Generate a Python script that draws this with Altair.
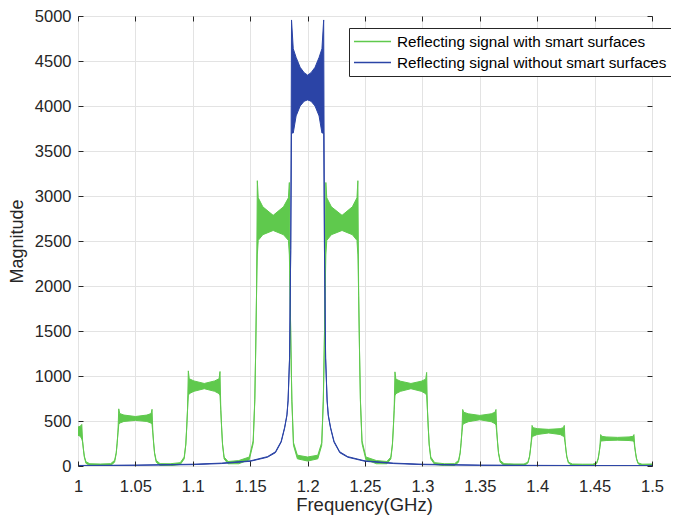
import altair as alt
import pandas as pd

series_names = ["Reflecting signal with smart surfaces",
                "Reflecting signal without smart surfaces"]
series_colors = ["#5FC94D", "#2B44A6"]

x_ticks = [1.0, 1.05, 1.1, 1.15, 1.2, 1.25, 1.3, 1.35, 1.4, 1.45, 1.5]
y_ticks = [0, 500, 1000, 1500, 2000, 2500, 3000, 3500, 4000, 4500, 5000]

# Green trace: frequency (GHz), lower and upper envelope of the magnitude band
green_freq = [
    1.0000, 1.0020, 1.0033, 1.0040, 1.0047, 1.0055, 1.0069, 1.0103, 1.0194,
    1.0285, 1.0319, 1.0333, 1.0341, 1.0348, 1.0355, 1.0363, 1.0400, 1.0500, 1.0600, 1.0637, 1.0645, 1.0652, 1.0659, 1.0667, 1.0681, 1.0715, 1.0803,
    1.0891, 1.0925, 1.0939, 1.0947, 1.0954, 1.0961, 1.0969, 1.1010, 1.1100, 1.1190, 1.1229, 1.1237, 1.1244, 1.1251, 1.1259, 1.1273, 1.1307, 1.1400,
    1.1492, 1.1526, 1.1540, 1.1548, 1.1555, 1.1562, 1.1570, 1.1610, 1.1700, 1.1790, 1.1833, 1.1841, 1.1848, 1.1855, 1.1863, 1.1877, 1.1911, 1.2000, 1.2089,
    1.2123, 1.2137, 1.2145, 1.2152, 1.2159, 1.2167, 1.2207, 1.2300, 1.2390, 1.2430, 1.2438, 1.2445, 1.2452, 1.2460, 1.2474, 1.2508, 1.2600,
    1.2691, 1.2725, 1.2739, 1.2747, 1.2754, 1.2761, 1.2769, 1.2810, 1.2900, 1.2990, 1.3029, 1.3037, 1.3044, 1.3051, 1.3059, 1.3073, 1.3107, 1.3194,
    1.3281, 1.3315, 1.3329, 1.3337, 1.3344, 1.3351, 1.3359, 1.3400, 1.3500, 1.3600, 1.3633, 1.3641, 1.3648, 1.3655, 1.3663, 1.3677, 1.3711, 1.3798,
    1.3885, 1.3919, 1.3933, 1.3941, 1.3948, 1.3955, 1.3963, 1.4000, 1.4100, 1.4200, 1.4228, 1.4236, 1.4243, 1.4250, 1.4258, 1.4272, 1.4306, 1.4395,
    1.4483, 1.4517, 1.4531, 1.4539, 1.4546, 1.4553, 1.4561, 1.4600, 1.4700, 1.4800, 1.4835, 1.4843, 1.4850, 1.4857, 1.4865, 1.4879, 1.4913, 1.5000,
]
green_low = [
    341, 330, 300, 268, 182, 100, 30, 5, 2,
    6, 43, 138, 250, 366, 460, 477, 495, 507, 495, 477, 460, 366, 250, 138, 43, 6, 3,
    17, 79, 235, 423, 618, 780, 804, 830, 859, 830, 804, 780, 618, 423, 235, 79, 25, 25,
    70, 250, 720, 1290, 1885, 2345, 2507, 2570, 2617, 2570, 2507, 2345, 1885, 1290, 720, 230, 80, 55, 80,
    230, 720, 1290, 1885, 2345, 2507, 2570, 2617, 2570, 2507, 2345, 1885, 1290, 720, 250, 70, 25,
    25, 79, 235, 423, 618, 780, 804, 830, 859, 830, 804, 780, 618, 423, 235, 79, 17, 3,
    6, 43, 140, 252, 370, 455, 470, 492, 514, 492, 470, 455, 370, 252, 140, 43, 6, 2,
    4, 33, 98, 177, 261, 320, 330, 350, 367, 350, 330, 320, 261, 177, 98, 33, 4, 2,
    4, 25, 76, 139, 205, 270, 278, 283, 287, 283, 278, 270, 205, 139, 76, 25, 4, 2,
]
green_high = [
    433, 442, 462, 278, 192, 110, 48, 25, 22,
    26, 63, 148, 258, 376, 635, 583, 566, 550, 566, 583, 630, 376, 258, 148, 63, 26, 25,
    37, 99, 245, 433, 628, 1057, 969, 945, 917, 945, 969, 1050, 628, 433, 245, 99, 50, 60,
    100, 280, 740, 1300, 1895, 3170, 2980, 2880, 2785, 2880, 2980, 3150, 1895, 1300, 740, 260, 120, 100, 120,
    260, 740, 1300, 1895, 3150, 2980, 2880, 2785, 2880, 2980, 3170, 1895, 1300, 740, 280, 100, 60,
    50, 99, 245, 433, 628, 1046, 965, 942, 917, 942, 965, 1040, 628, 433, 245, 99, 37, 25,
    26, 63, 150, 262, 380, 628, 598, 580, 562, 580, 598, 628, 380, 262, 150, 63, 26, 22,
    22, 43, 108, 187, 271, 451, 426, 415, 407, 415, 426, 451, 271, 187, 108, 43, 22, 20,
    20, 35, 86, 149, 215, 349, 330, 323, 318, 323, 330, 349, 215, 149, 86, 35, 20, 22,
]

# Blue trace: frequency (GHz), lower and upper envelope of the magnitude band
blue_freq = [
    1.000, 1.050, 1.100, 1.125, 1.150, 1.165, 1.172, 1.177, 1.180, 1.182, 1.183, 1.1843, 1.1853,
    1.1860, 1.1875, 1.1900, 1.1935, 1.1970, 1.2000, 1.2030, 1.2065, 1.2100, 1.2125, 1.2140,
    1.2147, 1.2157, 1.2170, 1.2180, 1.2200, 1.2230, 1.2280, 1.2350, 1.2500, 1.2750, 1.3000,
    1.3500, 1.4000, 1.4500, 1.5000,
]
blue_low = [
    3, 7, 15, 27, 52, 97, 148, 265, 420, 560, 722, 1195, 2395,
    3700, 3700, 3890, 4000, 4053, 4068, 4053, 4000, 3890, 3700, 3700,
    2395, 1195, 722, 560, 420, 265, 148, 97, 52, 27, 15,
    7, 5, 3, 2,
]
blue_high = [
    6, 10, 20, 32, 57, 104, 158, 276, 430, 570, 732, 1205, 2405,
    4956, 4636, 4540, 4430, 4370, 4343, 4370, 4430, 4540, 4636, 4956,
    2405, 1205, 732, 570, 430, 276, 158, 104, 57, 32, 20,
    10, 7, 5, 4,
]

green_df = pd.DataFrame({"freq": green_freq, "low": green_low, "high": green_high,
                         "series": series_names[0]})
blue_df = pd.DataFrame({"freq": blue_freq, "low": blue_low, "high": blue_high,
                        "series": series_names[1]})

W, H = 574, 450
FONT = "Liberation Sans"
DARK = "#262626"

x_scale = alt.Scale(domain=[1.0, 1.5], nice=False, zero=False)
y_scale = alt.Scale(domain=[0, 5000], nice=False, zero=False)
color_scale = alt.Scale(domain=series_names, range=series_colors)

legend = alt.Legend(
    title=None, orient="none", legendX=271, legendY=12, direction="vertical",
    symbolType="stroke", symbolSize=1369, symbolStrokeWidth=1.5,
    labelFontSize=15.3, labelFont=FONT, labelColor="#000000", labelLimit=500,
    labelOffset=5, padding=4, rowPadding=2, clipHeight=19,
    strokeColor=DARK, fillColor="white", cornerRadius=0,
)

x_axis_main = alt.Axis(
    orient="bottom", values=x_ticks, format="~g", grid=True, gridColor="#e3e3e3",
    gridWidth=1, ticks=False, domain=False, labelFontSize=16.5, labelColor=DARK,
    labelPadding=12.5, labelFont=FONT, labelFlush=False, labelOverlap=False,
    title="Frequency(GHz)", titleFontSize=18.5, titleFontWeight="normal",
    titleColor=DARK, titleFont=FONT, titleX=286, titleY=44,
    titleBaseline="alphabetic", titleAlign="center",
)
y_axis_main = alt.Axis(
    orient="left", values=y_ticks, format="d", grid=True, gridColor="#e3e3e3",
    gridWidth=1, ticks=False, domain=False, labelFontSize=16.5, labelColor=DARK,
    labelPadding=7, labelFont=FONT, labelFlush=False, labelOverlap=False,
    title="Magnitude", titleFontSize=18, titleFontWeight="normal",
    titleColor=DARK, titleFont=FONT, titleAngle=270, titleX=-56, titleY=225,
    titleBaseline="alphabetic", titleAlign="center",
)


def tick_axis(orient, values, offset):
    return alt.Axis(orient=orient, offset=offset, values=values, labels=False,
                    grid=False, domain=False, ticks=True, tickSize=5,
                    tickColor=DARK, tickWidth=1, title=None, zindex=1)


# inward ticks at the bottom/left edges (drawn by top/right axes moved across)
x_ticks_in_bottom = tick_axis("top", x_ticks, -H)
y_ticks_in_left = tick_axis("right", y_ticks, -W)
# inward ticks at the top/right edges
x_ticks_in_top = tick_axis("bottom", x_ticks, -H)
y_ticks_in_right = tick_axis("left", y_ticks, -W)


def band_layers(df, color_idx, axes):
    base = alt.Chart(df)
    col_legend = alt.Color("series:N", scale=color_scale, legend=legend)
    area = base.mark_area(clip=True, opacity=1, interpolate="linear",
                          color=series_colors[color_idx]).encode(
        x=alt.X("freq:Q", scale=x_scale, axis=axes[0][0]),
        y=alt.Y("low:Q", scale=y_scale, axis=axes[0][1]),
        y2="high:Q",
    )
    hi = base.mark_line(clip=True, strokeWidth=1).encode(
        x=alt.X("freq:Q", scale=x_scale, axis=axes[1][0]),
        y=alt.Y("high:Q", scale=y_scale, axis=axes[1][1]),
        color=col_legend,
    )
    lo = base.mark_line(clip=True, strokeWidth=1).encode(
        x=alt.X("freq:Q", scale=x_scale, axis=axes[2][0]),
        y=alt.Y("low:Q", scale=y_scale, axis=axes[2][1]),
        color=col_legend,
    )
    return [area, hi, lo]


green_layers = band_layers(green_df, 0, [
    (x_axis_main, y_axis_main),
    (x_ticks_in_bottom, y_ticks_in_left),
    (x_ticks_in_top, y_ticks_in_right),
])
blue_layers = band_layers(blue_df, 1, [(None, None), (None, None), (None, None)])

chart = alt.layer(*green_layers, *blue_layers).resolve_scale(
    x="shared", y="shared", color="shared"
).resolve_axis(
    x="independent", y="independent"
).resolve_legend(
    color="shared"
).properties(
    width=W, height=H,
    autosize=alt.AutoSizeParams(type="none"),
    padding={"left": 70, "top": 8, "right": 19, "bottom": 51},
).configure(
    font=FONT, background="white"
).configure_view(
    stroke=DARK, strokeWidth=1
)

chart.save("out.html", embed_options={"renderer": "svg", "actions": False})
